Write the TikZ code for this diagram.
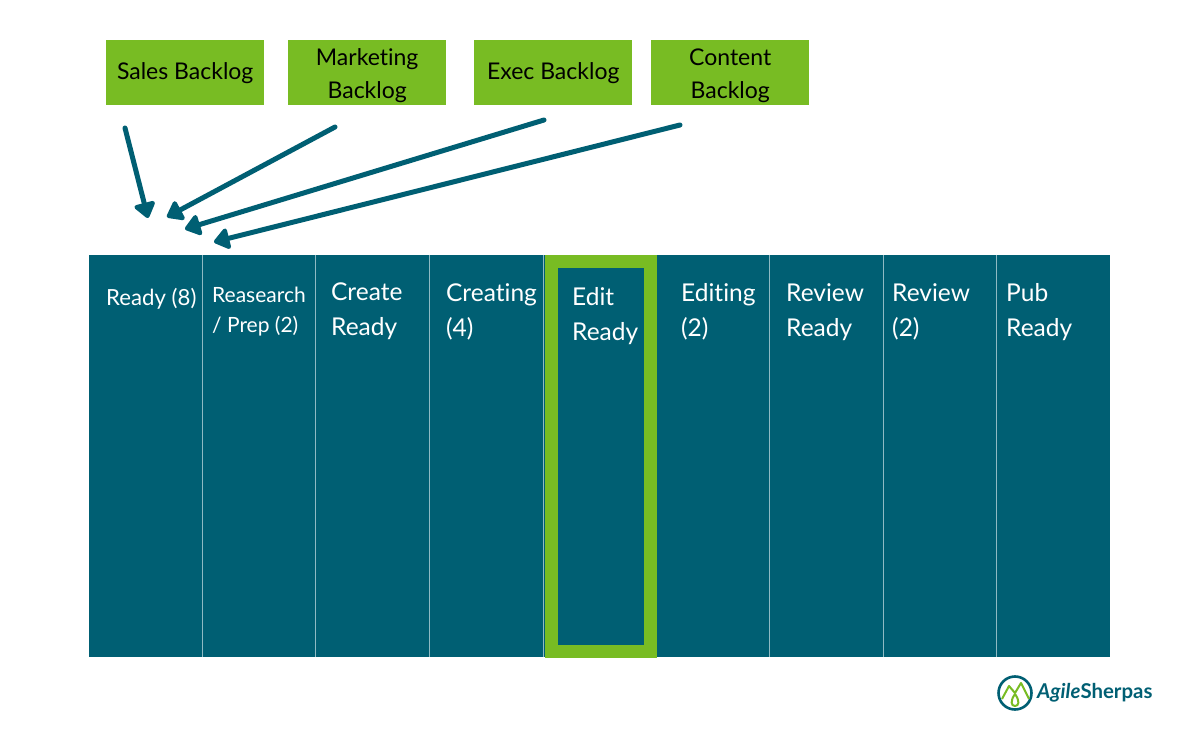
\documentclass[tikz,border=0pt]{standalone}
\usepackage{fontspec}
\setmainfont{Lato}[Ligatures=NoCommon]
\usetikzlibrary{arrows.meta}
\definecolor{teal}{HTML}{005F73}
\definecolor{lime}{HTML}{78BC23}
\definecolor{rule}{HTML}{8FBAC3}
\tikzset{
  backlog/.style={fill=lime,text=black,minimum width=158pt,minimum height=65pt,inner sep=0pt,align=center,font=\fontsize{23}{33}\selectfont,anchor=north west},
  twoline/.style={label={[yshift=-3pt,inner sep=0pt,text=black,align=center,font=\fontsize{23}{33}\selectfont]center:#1}},
  column/.style={fill=teal,minimum height=402pt,inner sep=0pt,anchor=north west},
  coltext/.style={text=white,align=left,anchor=north west,inner sep=0pt,font=\fontsize{24.5}{35}\selectfont},
  smalltext/.style={text=white,align=left,anchor=north west,inner sep=0pt},
  feed/.style={draw=teal,line width=5pt,line cap=round,-{Triangle[length=17pt,width=24pt,round]}},
  divider/.style={draw=rule,line width=1pt}
}
\begin{document}
\begin{tikzpicture}[x=1pt,y=-1pt]
\useasboundingbox (0,0) rectangle (1200,730);
\fill[white] (0,0) rectangle (1200,730);
% board
\node[column,minimum width=1021pt] (board) at (89,255) {};
\foreach \x/\n in {202/a,315/b,429/c,543/d,769/e,883/f,996/g}
  \draw[divider] (\x,255) -- (\x,657);
% highlighted column
\draw[lime,line width=13pt] (551.5,261.5) rectangle (650.5,651);
% backlog boxes
\node[backlog] (sales) at (106,40) {Sales Backlog};
\node[backlog,twoline={Marketing\\Backlog}] (mkt) at (288,40) {};
\node[backlog] (exec) at (474,40) {Exec Backlog};
\node[backlog,twoline={Content\\Backlog}] (cont) at (651,40) {};
% column labels
\node[smalltext,font=\fontsize{22.2}{31}\selectfont] (l1) at (106,288) {Ready (8)};
\node[smalltext,font=\fontsize{21}{30}\selectfont] (l2) at (212,287) {Reasearch\\/ Prep (2)};
\node[coltext] (l3) at (331,283) {Create\\Ready};
\node[coltext] (l4) at (446,283) {Creating\\(4)};
\node[coltext] (l5) at (572,287) {Edit\\Ready};
\node[coltext] (l6) at (681,283) {Editing\\(2)};
\node[coltext] (l7) at (786,283) {Review\\Ready};
\node[coltext] (l8) at (892,283) {Review\\(2)};
\node[coltext] (l9) at (1006,283) {Pub\\Ready};
% arrows
\coordinate (s1) at (125,128); \coordinate (t1) at (148,218);
\coordinate (s2) at (335,127); \coordinate (t2) at (167,217);
\coordinate (s3) at (544,120); \coordinate (t3) at (185,229);
\coordinate (s4) at (680,125); \coordinate (t4) at (214,242);
\draw[feed] (s1) -- (t1);
\draw[feed] (s2) -- (t2);
\draw[feed] (s3) -- (t3);
\draw[feed] (s4) -- (t4);
% logo
\draw[teal,line width=2.6pt] (1015,693) circle (16.5);
\draw[lime,line width=2pt,line join=round] (1002,699) -- (1009,686) -- (1015,693) -- (1021,683) -- (1029,699);
\draw[lime,line width=2pt] (1015,694) .. controls (1010,701) and (1011,706) .. (1015,706) .. controls (1019,706) and (1020,701) .. (1015,694);
\node[anchor=west,inner sep=0pt,text=teal,font=\fontsize{20.4}{24}\selectfont\bfseries] (logo) at (1037,693) {\textit{Agile}Sherpas};
\end{tikzpicture}
\end{document}
